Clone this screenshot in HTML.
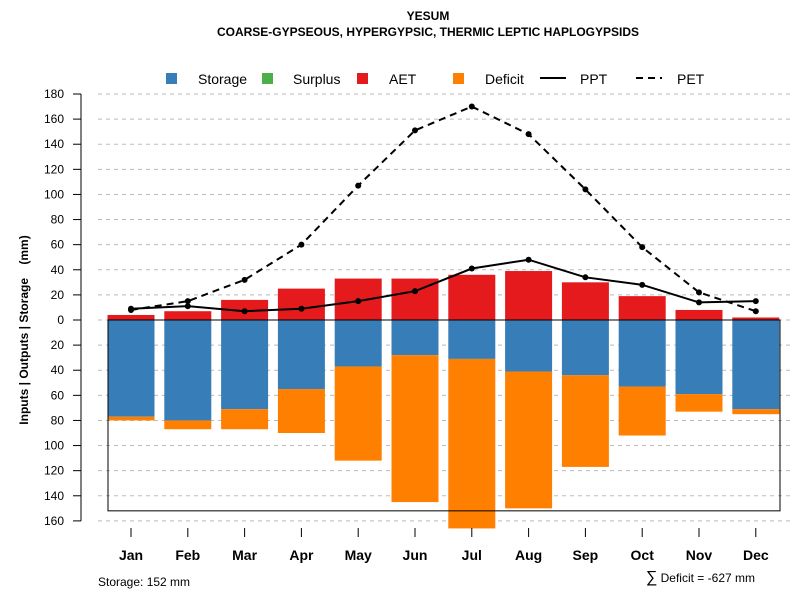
<!DOCTYPE html>
<html><head><meta charset="utf-8"><style>
body{margin:0;background:#fff;font-family:"Liberation Sans",sans-serif}
</style></head><body>
<svg id="chart" width="800" height="600" xmlns="http://www.w3.org/2000/svg" font-family="Liberation Sans, sans-serif">
<text x="428" y="20" text-anchor="middle" font-size="12" font-weight="bold">YESUM</text>
<text x="428" y="36" text-anchor="middle" font-size="12" font-weight="bold">COARSE-GYPSEOUS, HYPERGYPSIC, THERMIC LEPTIC HAPLOGYPSIDS</text>
<g id="grid"></g><g id="bars"></g><g id="lines"></g><g id="axes"></g>
<g font-size="14">
<rect x="166" y="73" width="11" height="11" fill="#377eb8"/><text x="198" y="84">Storage</text>
<rect x="262" y="73" width="11" height="11" fill="#4daf4a"/><text x="293" y="84">Surplus</text>
<rect x="357" y="73" width="11" height="11" fill="#e41a1c"/><text x="389" y="84">AET</text>
<rect x="453" y="73" width="11" height="11" fill="#ff7f00"/><text x="485" y="84">Deficit</text>
<line x1="540" y1="78" x2="566" y2="78" stroke="#000" stroke-width="2"/><text x="580" y="84">PPT</text>
<line x1="636" y1="78" x2="662" y2="78" stroke="#000" stroke-width="2" stroke-dasharray="7,5"/><text x="677" y="84">PET</text>
</g>
<text transform="translate(28,330) rotate(-90)" text-anchor="middle" font-size="12" font-weight="bold">Inputs | Outputs | Storage&#160;&#160;&#160;&#160;(mm)</text>
<text x="98" y="586" font-size="12">Storage: 152 mm</text>
<text x="755" y="582" text-anchor="end" font-size="12"><tspan font-size="16">∑</tspan> Deficit = -627 mm</text>
</svg>
<script>
const months=["Jan","Feb","Mar","Apr","May","Jun","Jul","Aug","Sep","Oct","Nov","Dec"];
const aet=[4,7,16,25,33,33,36,39,30,19,8,2];
const storage=[77,80,71,55,37,28,31,41,44,53,59,71];
const deficit=[3,7,16,35,75,117,135,109,73,39,14,4];
const ppt=[9,11,7,9,15,23,41,48,34,28,14,15];
const pet=[8,15,32,60,107,151,170,148,104,58,22,7];
const yTicks=[180,160,140,120,100,80,60,40,20,0,-20,-40,-60,-80,-100,-120,-140,-160];
const storageCap=152;
const NS="http://www.w3.org/2000/svg";
const y=v=>320-v*1.2556;
const x=i=>131+i*56.8;
const bw=47;
function mk(parent,tag,attrs){const e=document.createElementNS(NS,tag);for(const k in attrs)e.setAttribute(k,attrs[k]);document.getElementById(parent).appendChild(e);return e;}
yTicks.forEach(t=>{
  let g=mk('grid','line',{x1:98,x2:790,y1:y(t),y2:y(t),stroke:'#bbb','stroke-dasharray':'4,4'});
  
  
  let tk=mk('axes','line',{x1:73,x2:81,y1:y(t),y2:y(t),stroke:'#000'});
  
  
  let l=mk('axes','text',{x:64,y:y(t)+4,'text-anchor':'end','font-size':12});
  l.textContent=Math.abs(t);
  
  
});
let ax=mk('axes','line',{x1:81,x2:81,y1:y(180),y2:y(-160),stroke:'#000'});


months.forEach((m,i)=>{
  let b=mk('bars','rect',{x:x(i)-bw/2,y:y(0),width:bw,height:y(-storage[i])-y(0),fill:'#377eb8'});
  
  
  let d=mk('bars','rect',{x:x(i)-bw/2,y:y(-storage[i]),width:bw,height:y(-storage[i]-deficit[i])-y(-storage[i]),fill:'#ff7f00'});
  
  
  let a=mk('bars','rect',{x:x(i)-bw/2,y:y(aet[i]),width:bw,height:y(0)-y(aet[i]),fill:'#e41a1c'});
  
  
  let t=mk('axes','line',{x1:x(i),x2:x(i),y1:528,y2:537,stroke:'#000'});
  
  
  let l=mk('axes','text',{x:x(i),y:560,'text-anchor':'middle','font-size':14,'font-weight':'bold'});
  l.textContent=m;
  
  
});
let sb=mk('bars','rect',{x:108,y:y(0),width:672,height:y(-storageCap)-y(0),fill:'none',stroke:'#000'});


[[ppt,'',"ppt-line"],[pet,'7,5',"pet-line"]].forEach(([s,da,n])=>{
  let p=mk('lines','polyline',{points:s.map((v,i)=>x(i)+','+y(v)).join(' '),fill:'none',stroke:'#000','stroke-width':2,'stroke-dasharray':da});
  
  
  s.forEach((v,i)=>{
    let c=mk('lines','circle',{cx:x(i),cy:y(v),r:3,fill:'#000'});
    
    
  });
});
</script>
</body></html>
